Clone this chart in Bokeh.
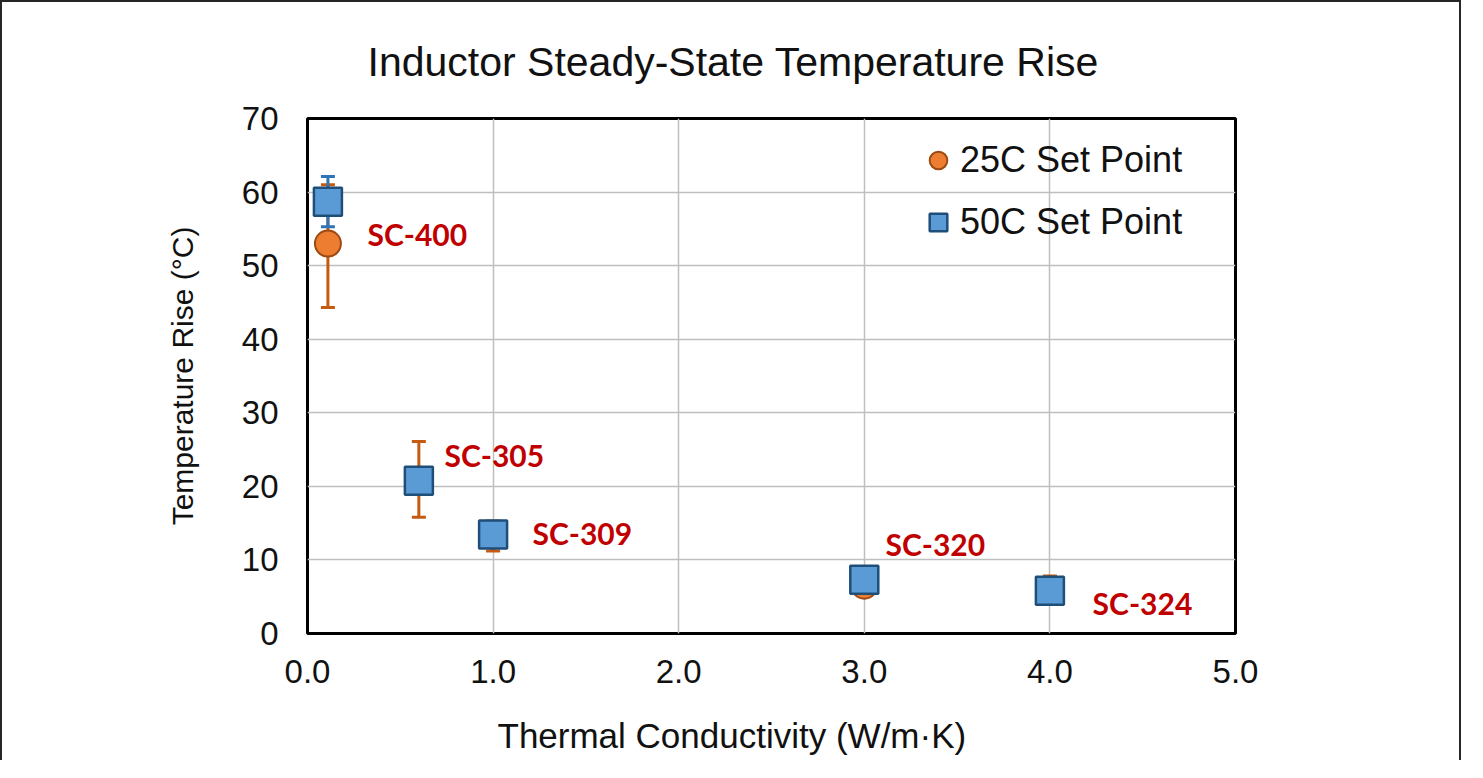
from bokeh.plotting import figure
from bokeh.models import (ColumnDataSource, Whisker, TeeHead, Range1d, FixedTicker,
                          Legend, LegendItem, LinearAxis, Title)
from bokeh.core.properties import value
from bokeh.embed import file_html
from bokeh.resources import INLINE

# ---- data ----
materials = ["SC-400", "SC-305", "SC-309", "SC-320", "SC-324"]
conductivity = [0.11, 0.6, 1.0, 3.0, 4.0]
rise_25c = [53.0, 20.9, 13.3, 6.5, 6.0]
err_25c_low = [8.7, 5.1, 2.1, 0.5, 1.8]
err_25c_high = [8.0, 5.2, 2.0, 0.5, 1.8]
rise_50c = [58.7, 20.75, 13.45, 7.3, 5.8]
err_50c = [3.4, 1.0, 0.8, 0.5, 0.5]
label_x = [0.323, 0.738, 1.212, 3.114, 4.23]
label_y = [54.3, 24.3, 13.6, 12.1, 4.2]
x_ticks = [0, 1, 2, 3, 4, 5]
x_tick_labels = ["0.0", "1.0", "2.0", "3.0", "4.0", "5.0"]
y_ticks = [0, 10, 20, 30, 40, 50, 60, 70]
title_text = "Inductor Steady-State Temperature Rise"
x_title = "Thermal Conductivity (W/m·K)"
y_title = "Temperature Rise (°C)"

FONT = "Liberation Sans"
ORANGE = "#ED7D31"
ORANGE_DARK = "#C55A11"
BLUE = "#5B9BD5"
BLUE_DARK = "#1F4E79"
BLUE_ERR = "#2E75B6"

src25 = ColumnDataSource(dict(
    x=conductivity, y=rise_25c,
    lower=[v - e for v, e in zip(rise_25c, err_25c_low)],
    upper=[v + e for v, e in zip(rise_25c, err_25c_high)]))
src50 = ColumnDataSource(dict(
    x=conductivity, y=rise_50c,
    lower=[v - e for v, e in zip(rise_50c, err_50c)],
    upper=[v + e for v, e in zip(rise_50c, err_50c)]))
srclab = ColumnDataSource(dict(x=label_x, y=label_y, text=materials))

p = figure(width=1461, height=760, output_backend="svg", toolbar_location=None,
           x_range=Range1d(0, 5), y_range=Range1d(0, 70),
           min_border_left=305, min_border_right=228,
           min_border_top=116, min_border_bottom=129,
           title=title_text)
p.styles = {"border-top": "2px solid #262626", "border-left": "2px solid #262626",
            "border-right": "2px solid #262626"}

p.title.text_font = FONT
p.title.text_font_size = "41px"
p.title.text_font_style = "normal"
p.title.text_color = "#111111"
p.title.align = "left"
p.title.offset = 60
p.title.standoff = 68

p.outline_line_color = "black"
p.outline_line_width = 3
p.outline_line_alpha = 1

for ax in (p.xaxis[0], p.yaxis[0]):
    ax.axis_line_color = None
    ax.major_tick_line_color = None
    ax.minor_tick_line_color = None
    ax.major_label_text_font = FONT
    ax.major_label_text_font_size = "33px"
    ax.major_label_text_color = "#111111"
    ax.axis_label_text_font = FONT
    ax.axis_label_text_font_style = "normal"
    ax.axis_label_text_color = "#111111"

p.yaxis.axis_label_text_font_size = "30px"
p.xaxis.ticker = FixedTicker(ticks=x_ticks)
p.xaxis.major_label_overrides = {t: l for t, l in zip(x_ticks, x_tick_labels)}
p.yaxis.ticker = FixedTicker(ticks=y_ticks)
p.yaxis.axis_label = y_title
p.xaxis.major_label_standoff = 20
p.yaxis.major_label_standoff = 23
p.yaxis.axis_label_standoff = 40

# empty spacer axis below the x axis, then the x-axis title (offset to the left)
spacer = LinearAxis(ticker=FixedTicker(ticks=[]), axis_line_color=None,
                    major_tick_line_color=None, minor_tick_line_color=None,
                    major_label_text_font_size="0px", axis_label=" ",
                    axis_label_standoff=0, axis_label_text_font_size="20px")
p.add_layout(spacer, "below")
xlabel = Title(text=x_title, align="left", offset=190, standoff=6,
               text_font=FONT, text_font_size="35px", text_font_style="normal",
               text_color="#111111")
p.add_layout(xlabel, "below")

p.xgrid.ticker = FixedTicker(ticks=x_ticks)
p.ygrid.ticker = FixedTicker(ticks=y_ticks)
p.grid.grid_line_color = "#BFBFBF"
p.grid.grid_line_width = 1.5

# error bars + markers
w25 = Whisker(source=src25, base="x", upper="upper", lower="lower",
              line_color=ORANGE_DARK, line_width=3,
              upper_head=TeeHead(size=14, line_color=ORANGE_DARK, line_width=3),
              lower_head=TeeHead(size=14, line_color=ORANGE_DARK, line_width=3))
p.add_layout(w25)
r25 = p.scatter("x", "y", source=src25, marker="circle", size=26,
                fill_color=ORANGE, line_color="#9C4A12", line_width=2)
w50 = Whisker(source=src50, base="x", upper="upper", lower="lower",
              line_color=BLUE_ERR, line_width=3,
              upper_head=TeeHead(size=14, line_color=BLUE_ERR, line_width=3),
              lower_head=TeeHead(size=14, line_color=BLUE_ERR, line_width=3))
p.add_layout(w50)
r50 = p.scatter("x", "y", source=src50, marker="square", size=28,
                fill_color=BLUE, line_color=BLUE_DARK, line_width=2.5)

p.text("x", "y", text="text", source=srclab, text_font=value("Lato"),
       text_font_style="bold", text_font_size="30px", text_color="#C00000",
       text_align="left", text_baseline="middle")

legend = Legend(items=[LegendItem(label="25C Set Point", renderers=[r25]),
                       LegendItem(label="50C Set Point", renderers=[r50])],
                location=(609, 389), orientation="vertical",
                glyph_width=44, glyph_height=44, label_standoff=0,
                spacing=18, padding=0, margin=0,
                border_line_color=None, background_fill_alpha=0,
                label_text_font=FONT, label_text_font_size="36px",
                label_text_color="#111111")
p.add_layout(legend)

open("out.html", "w").write(file_html(p, INLINE))
